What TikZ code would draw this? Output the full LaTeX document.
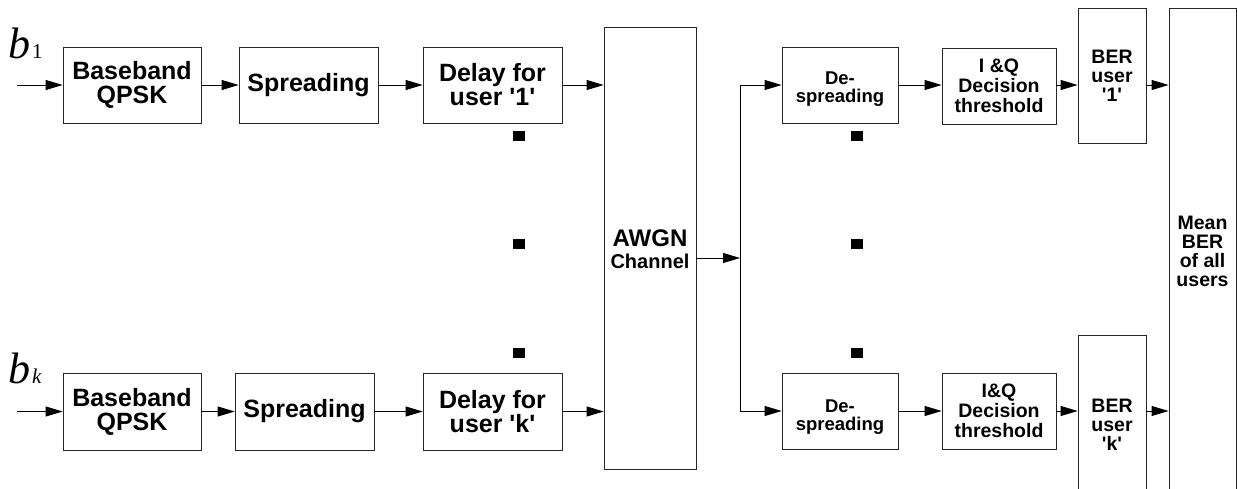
\documentclass[tikz,border=0pt]{standalone}
\usepackage{fontspec}
\setsansfont{Liberation Sans}
\newfontfamily\timesf{Liberation Serif}
\usetikzlibrary{arrows.meta}
\newcommand{\sq}{\textquotesingle}
\tikzset{
  blk/.style={draw=black!85, line width=0.8pt, inner sep=0pt, align=center},
  fbig/.style={font=\sffamily\bfseries\fontsize{25}{24}\selectfont},
  fiq/.style={font=\sffamily\bfseries\fontsize{19.5}{20}\selectfont},
  fber/.style={font=\sffamily\bfseries\fontsize{19.5}{19}\selectfont},
  fsml/.style={font=\sffamily\bfseries\fontsize{18.5}{17.5}\selectfont},
  arr/.style={-{Triangle[length=17pt,width=10pt]}, line width=0.8pt},
  ln/.style={line width=0.8pt},
  dotm/.style={fill=black, minimum width=12pt, minimum height=10pt, inner sep=0pt},
}
\begin{document}
\begin{tikzpicture}[x=1pt,y=-1pt]
\clip (0,0) rectangle (1237,488);
\fill[white] (0,0) rectangle (1237,488);
% input labels
\node[anchor=base west, inner sep=0pt] (lb1) at (8,58) {\timesf\itshape\fontsize{44}{44}\selectfont b\hspace{2pt}{\upshape\fontsize{21}{21}\selectfont 1}};
\node[anchor=base west, inner sep=0pt] (lbk) at (8,383) {\timesf\itshape\fontsize{44}{44}\selectfont b\hspace{2pt}{\fontsize{21}{21}\selectfont k}};
\coordinate (in1) at (17,85);
\coordinate (ink) at (17,411.5);
% top transmitter chain
\node[blk, fbig, minimum width=138pt, minimum height=76pt] (bb1) at (132,85) {Baseband\\QPSK};
\node[blk, fbig, minimum width=139pt, minimum height=76pt] (sp1) at (308.5,85) {Spreading};
\node[blk, fbig, minimum width=139pt, minimum height=76pt] (dl1) at (492.5,85) {Delay for\\user \sq1\sq};
% bottom transmitter chain
\node[blk, fbig, minimum width=138pt, minimum height=77pt] (bbk) at (132,411.5) {Baseband\\QPSK};
\node[blk, fbig, minimum width=139pt, minimum height=77pt] (spk) at (304.5,411.5) {Spreading};
\node[blk, fbig, minimum width=139pt, minimum height=77pt] (dlk) at (492.5,411.5) {Delay for\\user \sq k\sq};
% channel
\node[blk, minimum width=92pt, minimum height=442pt] (awgn) at (650,248) {};
\node[font=\sffamily\bfseries\fontsize{24}{24}\selectfont, inner sep=0pt] (awgnT) at (650,238) {AWGN};
\node[font=\sffamily\bfseries\fontsize{20}{20}\selectfont, inner sep=0pt] (chT) at (650,261) {Channel};
% receivers
\node[blk, minimum width=116pt, minimum height=76pt] (ds1) at (840,85) {};
\node[fsml, align=center, inner sep=0pt] (ds1T) at (840,89) {De-\\spreading};
\node[blk, fiq, minimum width=114pt, minimum height=76pt] (iq1) at (999,86) {I \&Q\\Decision\\threshold};
\node[blk, fber, minimum width=68pt, minimum height=135pt] (ber1) at (1112,75.5) {BER\\user\\\sq1\sq};
\node[blk, minimum width=116pt, minimum height=76pt] (dsk) at (840,411) {};
\node[fsml, align=center, inner sep=0pt] (dskT) at (840,417) {De-\\spreading};
\node[blk, fiq, minimum width=114pt, minimum height=76pt] (iqk) at (999,411) {I\&Q\\Decision\\threshold};
\node[blk, minimum width=68pt, minimum height=160pt] (berk) at (1112,415) {};
\node[fber, align=center, inner sep=0pt] (berkT) at (1112,425) {BER\\user\\\sq k\sq};
\node[blk, fber, minimum width=67pt, minimum height=487pt] (mean) at (1202.5,251.5) {Mean\\BER\\of all\\users};
% dots
\foreach \y [count=\i] in {136,244,353} {
  \node[dotm] (dotL\i) at (519,\y) {};
  \node[dotm] (dotR\i) at (857,\y) {};
}
% connectors top
\draw[arr] (in1) -- (bb1.west);
\draw[arr] (bb1) -- (sp1);
\draw[arr] (sp1) -- (dl1);
\draw[arr] (dl1.east) -- (dl1.east -| awgn.west);
% connectors bottom
\draw[arr] (ink) -- (bbk.west);
\draw[arr] (bbk) -- (spk);
\draw[arr] (spk) -- (dlk);
\draw[arr] (dlk.east) -- (dlk.east -| awgn.west);
% split
\coordinate (spl) at (740,258);
\coordinate (splT) at (740,85);
\coordinate (splB) at (740,411);
\draw[arr] (awgn.east |- spl) -- (spl);
\draw[ln] (splT) -- (splB);
\draw[arr] (splT) -- (ds1.west);
\draw[arr] (splB) -- (dsk.west);
% receiver connectors
\draw[arr] (ds1.east) -- (ds1.east -| iq1.west);
\draw[arr] (ds1.east -| iq1.east) -- (ds1.east -| ber1.west);
\draw[arr] (ds1.east -| ber1.east) -- (ds1.east -| mean.west);
\draw[arr] (dsk) -- (iqk);
\draw[arr] (iqk.east) -- (iqk.east -| berk.west);
\draw[arr] (berk.east |- iqk.east) -- (iqk.east -| mean.west);
\end{tikzpicture}
\end{document}
